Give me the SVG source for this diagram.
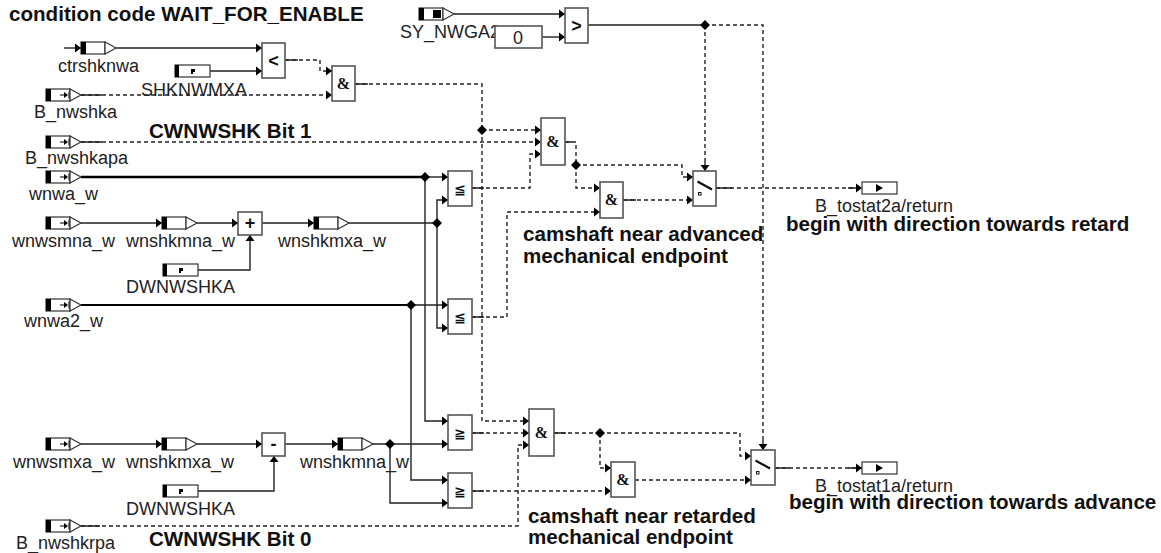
<svg xmlns="http://www.w3.org/2000/svg" width="1161" height="553" viewBox="0 0 1161 553">
<style>
text{font-family:"Liberation Sans",Arial,sans-serif;fill:#222}
.l{font-size:18px}
.b{font-size:20.6px;font-weight:bold;fill:#111}
.g{font-family:"Liberation Sans",sans-serif;font-weight:bold;font-size:18px;text-anchor:middle;fill:#111}
.g2{font-family:"DejaVu Sans",sans-serif;font-size:14px}
.am{font-family:"Liberation Serif",serif;font-size:16px}
.box{fill:#fff;stroke:#555;stroke-width:1.6}
.port{fill:#fff;stroke:#333;stroke-width:1.2}
.k{fill:#000;stroke:none}
.s,.d,.t{fill:none;stroke:#222;stroke-width:1.4}
.d{stroke-dasharray:4 3}
.t{stroke:#000;stroke-width:2.6}
.a{marker-end:url(#ah)}
</style>
<defs>
<marker id="ah" markerUnits="userSpaceOnUse" markerWidth="7" markerHeight="10" refX="6" refY="5" orient="auto"><path d="M0 0.5L6 5L0 9.5z" fill="#000"/></marker>
<g id="inport"><rect class="port" x="0" y="-6" width="24" height="12"/><rect class="k" x="0" y="-6" width="5" height="12"/><path d="M14 0H21" stroke="#000" stroke-width="1"/><path class="k" d="M18 -3L22 0L18 3z"/><path d="M23 -3.500V3.500" stroke="#000" stroke-width="1"/><path class="port" d="M24 -6L35 0L24 6z"/></g>
<g id="locport"><rect class="port" x="0" y="-6" width="24" height="12"/><rect class="k" x="0" y="-6" width="5" height="12"/><path class="port" d="M24 -6L35 0L24 6z"/></g>
<g id="param"><rect class="port" x="0" y="-6" width="35" height="12"/><rect class="k" x="0" y="-6" width="4" height="12"/><rect class="k" x="16" y="-2" width="4" height="3"/><rect class="k" x="16" y="0" width="2" height="3"/></g>
<g id="outport"><rect class="port" x="0" y="-6" width="35" height="12"/><path class="k" d="M14 -4L21 0L14 4z"/></g>
<g id="sw"><path d="M4.500 10.500L19 18.500" stroke="#111" stroke-width="2.2"/><rect x="5.500" y="21.500" width="2.500" height="2.500" fill="#fff" stroke="#111"/></g>
</defs>

<g id="connectors">
<path class="s a" d="M64 48H81"/><path class="s a" d="M116 48H262"/><path class="s a" d="M209 71H262"/>
<path class="d a" d="M285 60H320V71H332"/><path class="d a" d="M81 95H332"/>
<path class="d" d="M355 84H482V130"/><path class="d a" d="M482 130H541"/><path class="d a" d="M482 130V421H529"/>
<path class="d a" d="M81 142H541"/>
<path class="t" d="M81 177H425"/><path class="s a" d="M425 177H448"/><path class="s a" d="M425 177V421H448"/>
<path class="s a" d="M81 223H162"/><path class="s a" d="M197 223H238"/><path class="s a" d="M262 223H314"/><path class="s" d="M349 223H437"/>
<path class="s a" d="M437 223V200H448"/><path class="s a" d="M437 223V328H448"/>
<path class="s a" d="M198 270H250V235"/>
<path class="t" style="stroke-width:2" d="M81 305H411"/><path class="s a" d="M411 305H448"/><path class="s a" d="M411 305V480H448"/>
<path class="s a" d="M81 444H162"/><path class="s a" d="M197 444H262"/><path class="s a" d="M285 444H338"/><path class="s a" d="M372 444H448"/>
<path class="s a" d="M198 491H274V456"/><path class="s a" d="M390 444V503H448"/>
<path class="d a" d="M81 526H518V445H529"/>
<path class="d a" d="M472 188H530V154H541"/><path class="d a" d="M472 317H507V212H600"/>
<path class="d a" d="M472 433H529"/><path class="d a" d="M472 491H611"/>
<path class="d" d="M565 142H576V165"/><path class="d a" d="M576 165H682V177H693"/><path class="d a" d="M576 165V188H600"/>
<path class="d a" d="M623 200H693"/><path class="d a" d="M716 188H862"/>
<path class="d" d="M554 433H600"/><path class="d a" d="M600 433H740V456H751"/><path class="d a" d="M600 433V468H611"/>
<path class="d a" d="M635 480H751"/><path class="d a" d="M775 468H862"/>
<path class="s a" d="M454 14H565"/><path class="s a" d="M542 37H565"/>
<path class="s" d="M588 25H705"/><path class="d" d="M705 25V158"/><path class="s a" d="M705 158V171"/><path class="d" d="M705 25H763V438"/><path class="s a" d="M763 438V450"/>
<path class="s" d="M81 95H102M81 142H102M81 526H100M285 60H298M355 84H368M472 188H484M472 317H484M472 433H484M472 491H484M565 142H572M623 200H636M716 188H732M775 468H790M554 433H566M848 188H856M848 468H856"/>
<path class="k" d="M482 125L487 130L482 135L477 130zM576 160L581 165L576 170L571 165zM705 20L710 25L705 30L700 25zM425 172L430 177L425 182L420 177zM437 218L442 223L437 228L432 223zM411 300L416 305L411 310L406 305zM390 439L395 444L390 449L385 444zM600 428L605 433L600 438L595 433z"/>
</g>

<g id="title"><text class="b" x="9" y="21">condition code WAIT_FOR_ENABLE</text></g>
<g id="ctrshknwa"><use href="#locport" x="81" y="48"/><text class="l" x="58" y="72">ctrshknwa</text></g>
<g id="SHKNWMXA"><use href="#param" x="175" y="71"/><text class="l" x="141" y="96">SHKNWMXA</text></g>
<g id="B_nwshka"><use href="#inport" x="46" y="95"/><text class="l" x="34" y="118">B_nwshka</text></g>
<g id="B_nwshkapa"><use href="#inport" x="46" y="142"/><text class="l" x="25" y="164">B_nwshkapa</text></g>
<g id="wnwa_w"><use href="#inport" x="46" y="177"/><text class="l" x="29" y="200">wnwa_w</text></g>
<g id="wnwsmna_w"><use href="#inport" x="46" y="223"/><text class="l" x="12" y="247">wnwsmna_w</text></g>
<g id="wnshkmna_w1"><use href="#locport" x="162" y="223"/><text class="l" x="126" y="247">wnshkmna_w</text></g>
<g id="wnshkmxa_w1"><use href="#locport" x="314" y="223"/><text class="l" x="278" y="247">wnshkmxa_w</text></g>
<g id="DWNWSHKA1"><use href="#param" x="163" y="270"/><text class="l" x="126" y="293">DWNWSHKA</text></g>
<g id="wnwa2_w"><use href="#inport" x="46" y="305"/><text class="l" x="24" y="327">wnwa2_w</text></g>
<g id="wnwsmxa_w"><use href="#inport" x="46" y="444"/><text class="l" x="13" y="468">wnwsmxa_w</text></g>
<g id="wnshkmxa_w2"><use href="#locport" x="162" y="444"/><text class="l" x="126" y="468">wnshkmxa_w</text></g>
<g id="wnshkmna_w2"><use href="#locport" x="338" y="444"/><text class="l" x="300" y="468">wnshkmna_w</text></g>
<g id="DWNWSHKA2"><use href="#param" x="163" y="491"/><text class="l" x="126" y="515">DWNWSHKA</text></g>
<g id="B_nwshkrpa"><use href="#inport" x="46" y="526"/><text class="l" x="16" y="549">B_nwshkrpa</text></g>
<g id="SY_NWGA2"><use href="#locport" x="419" y="14"/><rect class="k" x="433" y="10" width="8" height="8"/><text class="l" x="400" y="38">SY_NWGA2</text></g>
<g id="const0"><rect class="box" x="495" y="26" width="47" height="22"/><text class="l" x="518" y="44" text-anchor="middle">0</text></g>
<g id="gt"><rect class="box" x="565" y="8" width="23" height="35"/><text class="g" x="576.500" y="32">&gt;</text></g>
<g id="lt"><rect class="box" x="262" y="43" width="23" height="35"/><text class="g" x="273.500" y="67">&lt;</text></g>
<g id="and1"><rect class="box" x="332" y="66" width="23" height="35"/><text class="g am" x="343.500" y="89">&amp;</text></g>
<g id="and2"><rect class="box" x="541" y="118" width="24" height="47"/><text class="g am" x="553" y="147">&amp;</text></g>
<g id="le1"><rect class="box" x="448" y="171" width="24" height="35"/><text class="g g2" x="460" y="194">≦</text></g>
<g id="le2"><rect class="box" x="448" y="299" width="24" height="35"/><text class="g g2" x="460" y="322">≦</text></g>
<g id="ge1"><rect class="box" x="448" y="415" width="24" height="35"/><text class="g g2" x="460" y="438">≧</text></g>
<g id="ge2"><rect class="box" x="448" y="473" width="24" height="35"/><text class="g g2" x="460" y="496">≧</text></g>
<g id="plus"><rect class="box" x="238" y="212" width="24" height="23"/><text class="g" x="250" y="229">+</text></g>
<g id="minus"><rect class="box" x="262" y="433" width="23" height="23"/><text class="g" x="273.500" y="450">-</text></g>
<g id="and3"><rect class="box" x="600" y="182" width="23" height="36"/><text class="g am" x="611.500" y="205">&amp;</text></g>
<g id="and4"><rect class="box" x="529" y="409" width="25" height="47"/><text class="g am" x="541.500" y="438">&amp;</text></g>
<g id="and5"><rect class="box" x="611" y="462" width="24" height="35"/><text class="g am" x="623" y="485">&amp;</text></g>
<g id="switch1"><rect class="box" x="693" y="171" width="23" height="35"/><use href="#sw" x="693" y="171"/></g>
<g id="switch2"><rect class="box" x="751" y="450" width="24" height="35"/><use href="#sw" x="751" y="450"/></g>
<g id="B_tostat2a"><use href="#outport" x="862" y="188"/><text class="l" x="815" y="212">B_tostat2a/return</text></g>
<g id="B_tostat1a"><use href="#outport" x="862" y="468"/><text class="l" x="815" y="492">B_tostat1a/return</text></g>
<g id="notes">
<text class="b" x="149" y="138">CWNWSHK Bit 1</text>
<text class="b" x="149" y="546">CWNWSHK Bit 0</text>
<text class="b" x="523" y="241">camshaft near advanced</text>
<text class="b" x="523" y="263">mechanical endpoint</text>
<text class="b" x="528" y="523">camshaft near retarded</text>
<text class="b" x="528" y="544">mechanical endpoint</text>
<text class="b" x="786" y="231">begin with direction towards retard</text>
<text class="b" x="789" y="509">begin with direction towards advance</text>
</g>
</svg>
